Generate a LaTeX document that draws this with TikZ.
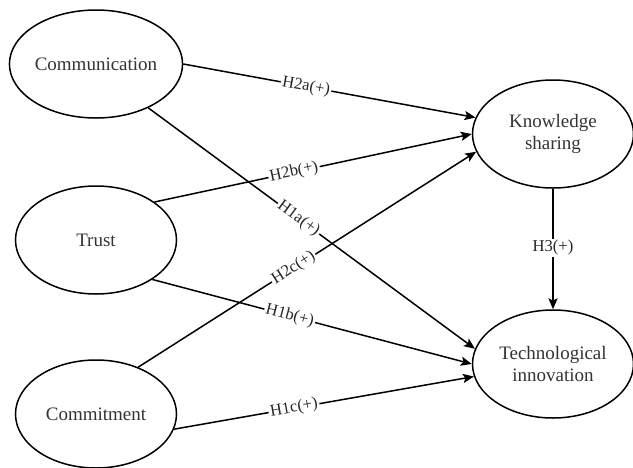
\documentclass[tikz,border=0pt]{standalone}
\usepackage{fontspec}
\setmainfont{Liberation Serif}
\usetikzlibrary{arrows.meta,shapes.geometric}

\begin{document}
\begin{tikzpicture}[->,>={Stealth[length=5.5pt,width=4.6pt,inset=1.2pt]},
                    x=0.5pt,y=-0.5pt,line width=0.75pt]

  \tikzstyle{construct}=[ellipse,draw,align=center,inner sep=0pt,
                         minimum width=80.5pt,minimum height=54pt,
                         text=black!80,font=\fontsize{9.5}{11}\selectfont]
  \tikzstyle{hyp}=[fill=white,inner sep=0.8pt,text=black!85,
                   font=\fontsize{8.3}{10}\selectfont]

  \useasboundingbox (0,0) rectangle (633,467);

  \node[construct] (COM) at (96,64)   {Communication};
  \node[construct] (TR)  at (96,240)  {Trust};
  \node[construct] (CMT) at (96,414)  {Commitment};
  \node[construct] (KS)  at (553,134) {Knowledge \\ sharing};
  \node[construct] (TI)  at (553,364) {Technological \\ innovation};

  \path
  (COM.east) edge node[hyp,sloped,pos=0.42] {H2a(+)} (KS.168)
  (TR.33)    edge node[hyp,sloped,pos=0.44] {H2b(+)} (KS.180)
  (CMT.48)   edge node[hyp,sloped,pos=0.46] {H2c(+)} (KS.193)
  (COM.320)  edge node[hyp,sloped,pos=0.46] {H1a(+)} (TI.169)
  (TR.325)   edge node[hyp,sloped,pos=0.43] {H1b(+)} (TI.180)
  (CMT.349)  edge node[hyp,sloped,pos=0.40] {H1c(+)} (TI.189)
  (KS.south) edge node[hyp,pos=0.49]        {H3(+)}  (TI.north)
  ;
\end{tikzpicture}
\end{document}
